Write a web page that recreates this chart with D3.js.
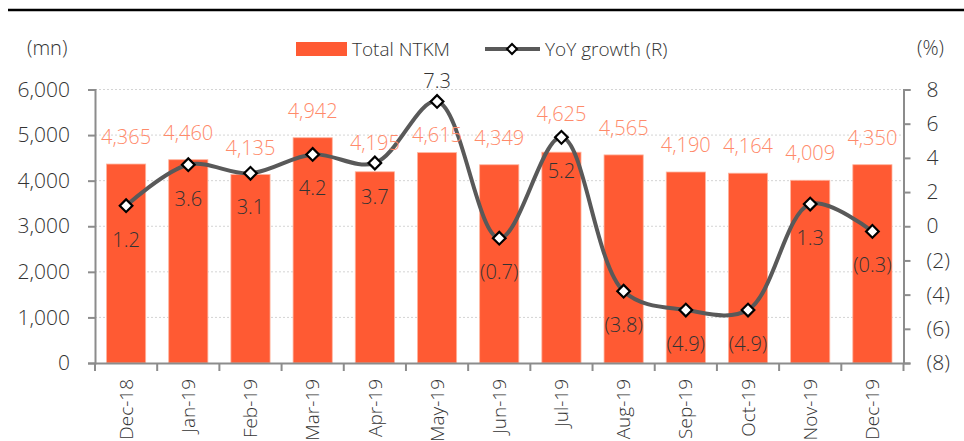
<!DOCTYPE html>
<html><head><meta charset="utf-8">
<script src="https://cdn.jsdelivr.net/npm/d3@7"></script>
<style>body{margin:0;background:#fff}svg{display:block}text{font-family:"Open Sans",Lato,sans-serif;font-weight:300}</style>
</head><body>
<svg id="c" width="964" height="441"></svg>
<script>
const categories = ["Dec-18","Jan-19","Feb-19","Mar-19","Apr-19","May-19","Jun-19","Jul-19","Aug-19","Sep-19","Oct-19","Nov-19","Dec-19"];
const ntkm = [4365,4460,4135,4942,4195,4615,4349,4625,4565,4190,4164,4009,4350];
const yoy = [1.2,3.6,3.1,4.2,3.7,7.3,-0.7,5.2,-3.8,-4.9,-4.9,1.3,-0.3];
const yoyLabelAbove = [false,false,false,false,false,true,false,false,false,false,false,false,false];
const leftTicks = [0,1000,2000,3000,4000,5000,6000];
const rightTicks = [-8,-6,-4,-2,0,2,4,6,8];

// label gap above bars (styling, px)
const barLabelGap = [20,20,20,20,22,11,20,31,20,20,20,20,20];

const svg = d3.select("#c");
const L = 95, R = 903.5, T = 89.5, B = 363;
const BAR = "#FF5A33", LBL = "#FF8A6A", LINE = "#595959", TXT = "#333";
const FS = 20;

svg.append("line").attr("x1",8).attr("x2",964).attr("y1",10).attr("y2",10).attr("stroke","#000").attr("stroke-width",2.5);

const x = d3.scaleBand().domain(categories).range([L,R]).paddingInner(0.37).paddingOuter(0.185);
const xb = d3.scaleBand().domain(categories).range([L,R]);
const yL = d3.scaleLinear().domain([0,6000]).range([B,T]);
const yR = d3.scaleLinear().domain([-8,8]).range([B,T]);

// gridlines
svg.append("g").selectAll("line").data(leftTicks.filter(d=>d>0)).join("line")
  .attr("x1",L).attr("x2",R).attr("y1",d=>yL(d)).attr("y2",d=>yL(d))
  .attr("stroke","#d4d4d4").attr("stroke-width",1).attr("stroke-dasharray","2,2");

// bars
svg.append("g").selectAll("rect").data(ntkm).join("rect")
  .attr("x",(d,i)=>x(categories[i])).attr("width",x.bandwidth())
  .attr("y",d=>yL(d)).attr("height",d=>B-yL(d))
  .attr("fill",BAR).attr("stroke","#FFB49E").attr("stroke-width",0.8);

// axes
const axL = svg.append("g").attr("transform",`translate(${L},0)`)
  .call(d3.axisLeft(yL).tickValues(leftTicks).tickFormat(d3.format(",")).tickSize(7).tickPadding(18));
const axR = svg.append("g").attr("transform",`translate(${R},0)`)
  .call(d3.axisRight(yR).tickValues(rightTicks).tickFormat(d=>d<0?`(${-d})`:d).tickSize(7).tickPadding(16));
const axB = svg.append("g").attr("transform",`translate(0,${B})`)
  .call(d3.axisBottom(xb).tickSize(0).tickPadding(0));
[axL,axR,axB].forEach(a=>{a.select(".domain").attr("stroke","#8c8c8c").attr("stroke-width",2);
  a.selectAll(".tick line").attr("stroke","#8c8c8c").attr("stroke-width",2);
  a.selectAll("text").attr("fill",TXT).attr("font-size",21).attr("font-family",null);});
const bounds = categories.map(c=>xb(c)).concat([R]);
axB.selectAll(".bt").data(bounds).join("line").attr("class","bt")
  .attr("x1",d=>d).attr("x2",d=>d).attr("y1",0).attr("y2",8)
  .attr("stroke","#8c8c8c").attr("stroke-width",2);
axB.selectAll(".tick text").attr("transform","rotate(-90)").attr("text-anchor","end")
  .attr("x",-16).attr("y",0).attr("dy","0.35em").attr("font-size",19);

// line
const px = i => xb(categories[i]) + xb.bandwidth()/2;
const line = d3.line().x((d,i)=>px(i)).y(d=>yR(d)).curve(d3.curveCatmullRom.alpha(0.5));
svg.append("path").datum(yoy).attr("d",line).attr("fill","none").attr("stroke",LINE).attr("stroke-width",4);
svg.append("g").selectAll("path").data(yoy).join("path")
  .attr("transform",(d,i)=>`translate(${px(i)},${yR(d)}) rotate(45)`)
  .attr("d",d3.symbol().type(d3.symbolSquare).size(80))
  .attr("fill","#fff").attr("stroke","#000").attr("stroke-width",2.2);

// bar labels
svg.append("g").selectAll("text").data(ntkm).join("text")
  .attr("x",(d,i)=>x(categories[i])+x.bandwidth()/2).attr("y",(d,i)=>yL(d)-barLabelGap[i])
  .attr("text-anchor","middle").attr("fill",LBL).attr("font-size",FS)
  .text(d=>d3.format(",")(d));

// yoy labels
svg.append("g").selectAll("text").data(yoy).join("text")
  .attr("x",(d,i)=>px(i)).attr("y",(d,i)=>yoyLabelAbove[i]?yR(d)-13:yR(d)+41)
  .attr("text-anchor","middle").attr("fill",TXT).attr("font-size",FS)
  .text(d=>d<0?`(${d3.format(".1f")(-d)})`:d3.format(".1f")(d));

// unit labels
svg.append("text").attr("x",27).attr("y",55).attr("fill",TXT).attr("font-size",20).text("(mn)");
svg.append("text").attr("x",917).attr("y",55).attr("fill",TXT).attr("font-size",20).text("(%)");

// legend
svg.append("rect").attr("x",296).attr("y",42).attr("width",51).attr("height",14).attr("fill",BAR);
svg.append("text").attr("x",352).attr("y",56).attr("fill",TXT).attr("font-size",19).text("Total NTKM");
svg.append("line").attr("x1",485).attr("x2",540).attr("y1",49).attr("y2",49).attr("stroke",LINE).attr("stroke-width",4);
svg.append("path").attr("transform","translate(512,49) rotate(45)").attr("d",d3.symbol().type(d3.symbolSquare).size(50))
  .attr("fill","#fff").attr("stroke","#000").attr("stroke-width",2);
svg.append("text").attr("x",545).attr("y",56).attr("fill",TXT).attr("font-size",19).text("YoY growth (R)");
</script>
</body></html>
